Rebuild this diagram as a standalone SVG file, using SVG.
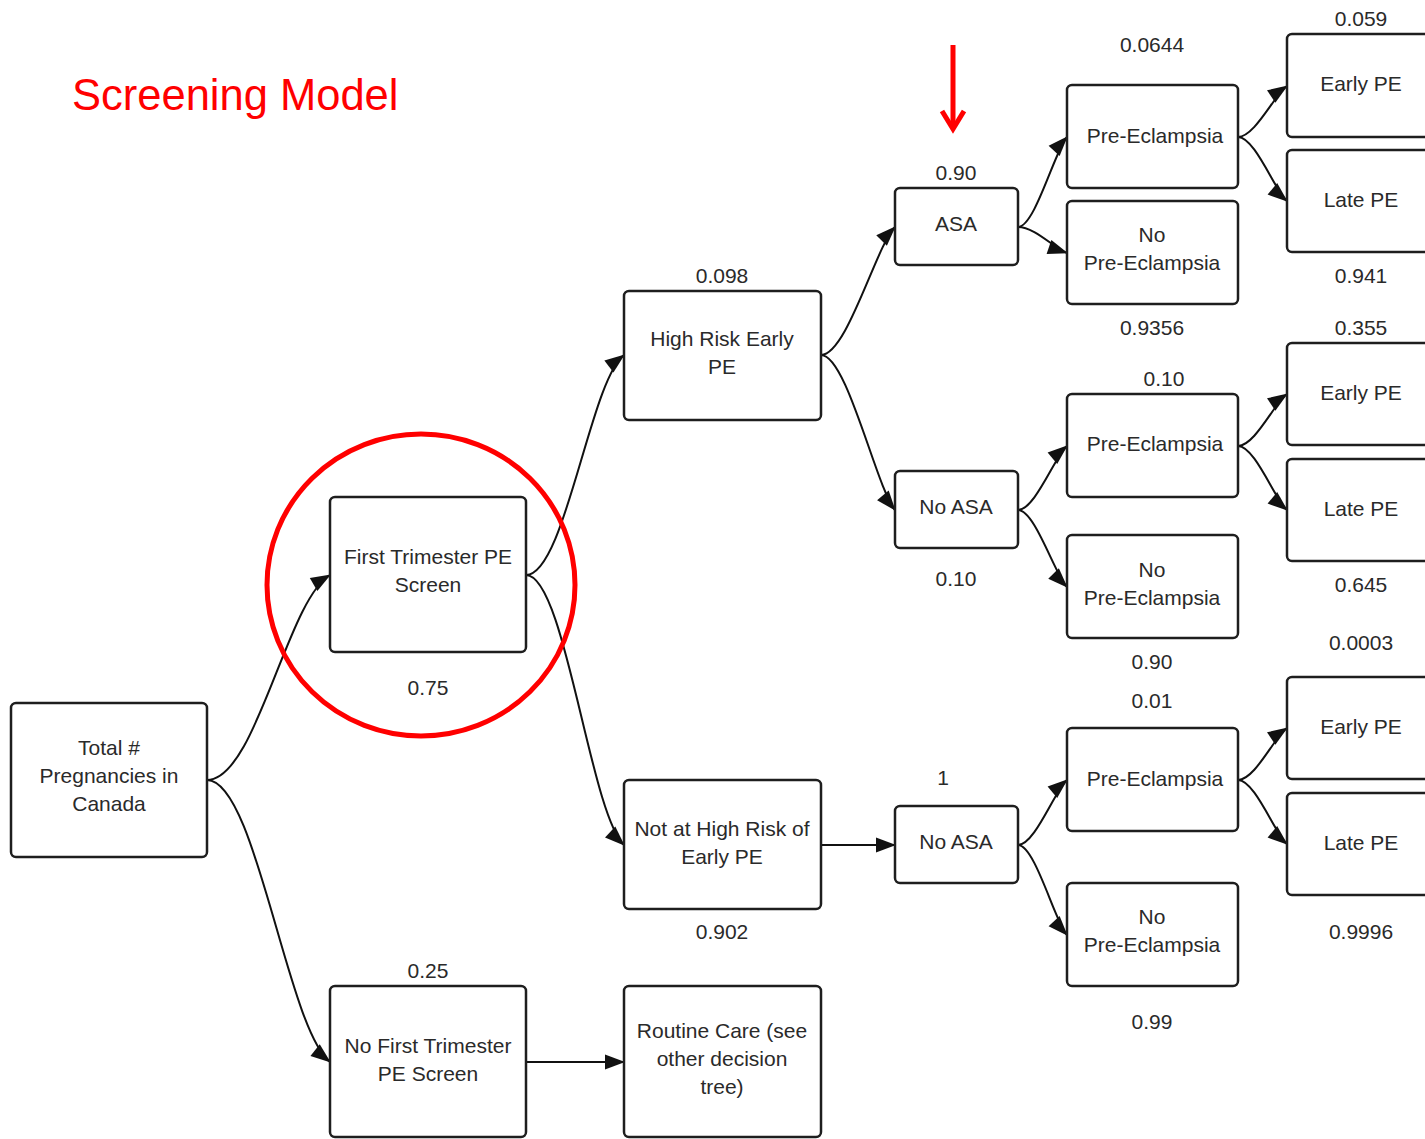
<svg xmlns="http://www.w3.org/2000/svg" width="1425" height="1139" viewBox="0 0 1425 1139">
<style>
.box{fill:#fff;stroke:#1e1e1e;stroke-width:2.5}
.t{font-family:"Liberation Sans",Arial,sans-serif;font-size:21px;fill:#2a2a2a;text-anchor:middle}
.e{fill:none;stroke:#111;stroke-width:2}
</style>
<defs>
<marker id="ah" markerUnits="userSpaceOnUse" markerWidth="22" markerHeight="16" refX="19" refY="7.5" orient="auto" overflow="visible">
<path d="M0,0 L20,7.5 L0,15 z" fill="#111"/>
</marker>
</defs>
<rect width="1425" height="1139" fill="#fff"/>
<text x="72" y="110" font-family="Liberation Sans,Arial,sans-serif" font-size="43.5" fill="#ff0000">Screening Model</text>
<g id="red-arrow" stroke="#ff0000" stroke-width="5" fill="none">
<line x1="953" y1="45" x2="953" y2="128"/>
<polyline points="942,111 953,129 964,111" stroke-linejoin="miter"/>
</g>
<g id="connectors" class="edges">
<path class="e" marker-end="url(#ah)" d="M207,780 C256,780 287,600 330,575"/>
<path class="e" marker-end="url(#ah)" d="M207,780 C256,780 287,1028 330,1062"/>
<path class="e" marker-end="url(#ah)" d="M526,575 C565,575 590,381 624,355"/>
<path class="e" marker-end="url(#ah)" d="M526,575 C565,575 590,813 624,845"/>
<path class="e" marker-end="url(#ah)" d="M821,355 C847,355 876,246 895,227"/>
<path class="e" marker-end="url(#ah)" d="M821,355 C847,355 876,487 895,510"/>
<path class="e" marker-end="url(#ah)" d="M821,845 L895,845"/>
<path class="e" marker-end="url(#ah)" d="M526,1062 L624,1062"/>
<path class="e" marker-end="url(#ah)" d="M1018,227 C1035,227 1055,150 1067,137"/>
<path class="e" marker-end="url(#ah)" d="M1018,227 C1035,227 1055,249 1067,253"/>
<path class="e" marker-end="url(#ah)" d="M1018,510 C1035,510 1055,456 1067,446"/>
<path class="e" marker-end="url(#ah)" d="M1018,510 C1035,510 1055,575 1067,587"/>
<path class="e" marker-end="url(#ah)" d="M1018,845 C1035,845 1055,790 1067,780"/>
<path class="e" marker-end="url(#ah)" d="M1018,845 C1035,845 1055,922 1067,935"/>
<path class="e" marker-end="url(#ah)" d="M1238,137 C1255,137 1275,94 1287,86"/>
<path class="e" marker-end="url(#ah)" d="M1238,137 C1255,137 1275,191 1287,201"/>
<path class="e" marker-end="url(#ah)" d="M1238,446 C1255,446 1275,402 1287,394"/>
<path class="e" marker-end="url(#ah)" d="M1238,446 C1255,446 1275,500 1287,510"/>
<path class="e" marker-end="url(#ah)" d="M1238,780 C1255,780 1275,736 1287,728"/>
<path class="e" marker-end="url(#ah)" d="M1238,780 C1255,780 1275,834 1287,844"/>
</g>
<g id="total"><rect class="box" x="11" y="703" width="196" height="154" rx="5"/>
<text class="t" x="109" y="755">Total #</text><text class="t" x="109" y="783">Pregnancies in</text><text class="t" x="109" y="811">Canada</text></g>
<g id="first-screen"><rect class="box" x="330" y="497" width="196" height="155" rx="5"/>
<text class="t" x="428" y="564">First Trimester PE</text><text class="t" x="428" y="592">Screen</text>
<text class="t" x="428" y="695">0.75</text></g>
<g id="no-first-screen"><rect class="box" x="330" y="986" width="196" height="151" rx="5"/>
<text class="t" x="428" y="1053">No First Trimester</text><text class="t" x="428" y="1081">PE Screen</text>
<text class="t" x="428" y="978">0.25</text></g>
<g id="routine"><rect class="box" x="624" y="986" width="197" height="151" rx="5"/>
<text class="t" x="722" y="1038">Routine Care (see</text><text class="t" x="722" y="1066">other decision</text><text class="t" x="722" y="1094">tree)</text></g>
<g id="high-risk"><rect class="box" x="624" y="291" width="197" height="129" rx="5"/>
<text class="t" x="722" y="346">High Risk Early</text><text class="t" x="722" y="374">PE</text>
<text class="t" x="722" y="283">0.098</text></g>
<g id="not-high-risk"><rect class="box" x="624" y="780" width="197" height="129" rx="5"/>
<text class="t" x="722" y="836">Not at High Risk of</text><text class="t" x="722" y="864">Early PE</text>
<text class="t" x="722" y="939">0.902</text></g>
<g id="asa"><rect class="box" x="895" y="188" width="123" height="77" rx="5"/>
<text class="t" x="956" y="231">ASA</text><text class="t" x="956" y="180">0.90</text></g>
<g id="no-asa-1"><rect class="box" x="895" y="471" width="123" height="77" rx="5"/>
<text class="t" x="956" y="514">No ASA</text><text class="t" x="956" y="586">0.10</text></g>
<g id="no-asa-2"><rect class="box" x="895" y="806" width="123" height="77" rx="5"/>
<text class="t" x="956" y="849">No ASA</text><text class="t" x="943" y="785">1</text></g>
<g id="pe-1"><rect class="box" x="1067" y="85" width="171" height="103" rx="5"/>
<text class="t" x="1155" y="143">Pre-Eclampsia</text><text class="t" x="1152" y="52">0.0644</text></g>
<g id="no-pe-1"><rect class="box" x="1067" y="201" width="171" height="103" rx="5"/>
<text class="t" x="1152" y="242">No</text><text class="t" x="1152" y="270">Pre-Eclampsia</text><text class="t" x="1152" y="335">0.9356</text></g>
<g id="pe-2"><rect class="box" x="1067" y="394" width="171" height="103" rx="5"/>
<text class="t" x="1155" y="451">Pre-Eclampsia</text><text class="t" x="1164" y="386">0.10</text></g>
<g id="no-pe-2"><rect class="box" x="1067" y="535" width="171" height="103" rx="5"/>
<text class="t" x="1152" y="577">No</text><text class="t" x="1152" y="605">Pre-Eclampsia</text><text class="t" x="1152" y="669">0.90</text></g>
<g id="pe-3"><rect class="box" x="1067" y="728" width="171" height="103" rx="5"/>
<text class="t" x="1155" y="786">Pre-Eclampsia</text><text class="t" x="1152" y="708">0.01</text></g>
<g id="no-pe-3"><rect class="box" x="1067" y="883" width="171" height="103" rx="5"/>
<text class="t" x="1152" y="924">No</text><text class="t" x="1152" y="952">Pre-Eclampsia</text><text class="t" x="1152" y="1029">0.99</text></g>
<g id="early-1"><rect class="box" x="1287" y="34" width="150" height="103" rx="5"/>
<text class="t" x="1361" y="91">Early PE</text><text class="t" x="1361" y="26">0.059</text></g>
<g id="late-1"><rect class="box" x="1287" y="150" width="150" height="102" rx="5"/>
<text class="t" x="1361" y="207">Late PE</text><text class="t" x="1361" y="283">0.941</text></g>
<g id="early-2"><rect class="box" x="1287" y="343" width="150" height="102" rx="5"/>
<text class="t" x="1361" y="400">Early PE</text><text class="t" x="1361" y="335">0.355</text></g>
<g id="late-2"><rect class="box" x="1287" y="459" width="150" height="102" rx="5"/>
<text class="t" x="1361" y="516">Late PE</text><text class="t" x="1361" y="592">0.645</text></g>
<g id="early-3"><rect class="box" x="1287" y="677" width="150" height="102" rx="5"/>
<text class="t" x="1361" y="734">Early PE</text><text class="t" x="1361" y="650">0.0003</text></g>
<g id="late-3"><rect class="box" x="1287" y="793" width="150" height="102" rx="5"/>
<text class="t" x="1361" y="850">Late PE</text><text class="t" x="1361" y="939">0.9996</text></g>
<ellipse id="red-circle" cx="421" cy="585" rx="154" ry="151" fill="none" stroke="#ff0000" stroke-width="5"/>
</svg>
